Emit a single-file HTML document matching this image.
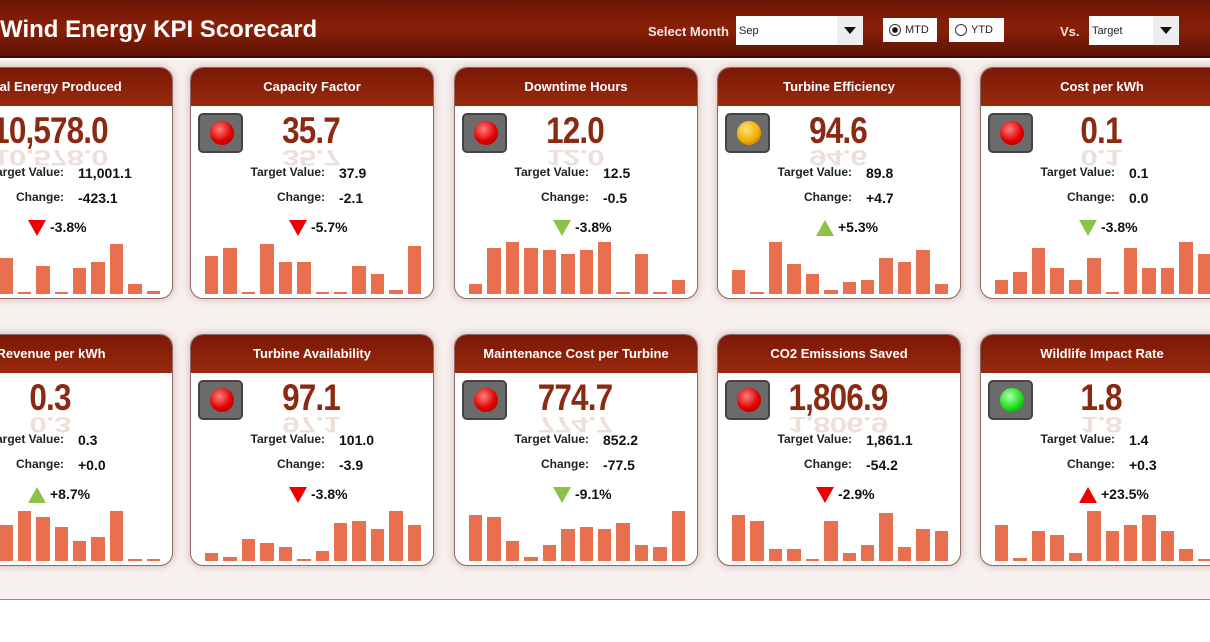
<!DOCTYPE html>
<html><head><meta charset="utf-8"><style>
*{margin:0;padding:0;box-sizing:border-box}
body{width:1210px;height:642px;overflow:hidden;background:#fff;font-family:"Liberation Sans",sans-serif;position:relative}
.top{position:absolute;left:0;top:0;width:1210px;height:58px;background:linear-gradient(#6a1406,#8a2008 50%,#5e1205);border-bottom:2px solid #3d0a02}
.title{position:absolute;left:0;top:16px;color:#fff;font-size:24px;font-weight:bold}
.lbl{position:absolute;color:#f4e6e0;font-size:13px;font-weight:bold;top:24px}
.dd{position:absolute;top:16px;height:29px;background:#fff;font-size:11px;padding:9px 3px;color:#222}
.dd b{position:absolute;right:0;top:0;width:26px;height:29px;background:#eee}
.dd b:after{content:"";position:absolute;left:7px;top:11px;border-left:6px solid transparent;border-right:6px solid transparent;border-top:7px solid #111}
.rb{position:absolute;top:18px;height:24px;background:#fff;font-size:11px;padding:6px 0 0 22px;color:#222}
.rb i{position:absolute;left:6px;top:6px;width:12px;height:12px;border:1px solid #333;border-radius:50%}
.bg{position:absolute;left:0;top:60px;width:1210px;height:540px;background:#f6f0ef;border-bottom:1px solid #9a8a88}
.card{position:absolute;width:244px;height:232px;background:#fff;border:1px solid #8a6a66;border-radius:13px;box-shadow:0 0 8px rgba(150,60,40,.35);overflow:hidden}
.hd{height:38px;background:linear-gradient(#7a1806,#9a2a0e);color:#fff;font-weight:bold;font-size:13px;text-align:center;line-height:38px}
.lt{position:absolute;left:7px;top:45px;width:45px;height:40px;background:#6b6b6b;border:2px solid #444;border-radius:5px}
.lt i{position:absolute;left:10px;top:6px;width:24px;height:24px;border-radius:50%;background:radial-gradient(circle at 40% 35%,#ff8080,#e00000 55%,#900)}
.lt.g i{background:radial-gradient(circle at 40% 35%,#b0ffb0,#22dd22 55%,#080)}
.lt.y i{background:radial-gradient(circle at 40% 35%,#ffe080,#f0b000 55%,#a06000)}
.v{position:absolute;left:40px;width:160px;top:42px;text-align:center;font-family:"Liberation Sans Narrow","Liberation Sans",sans-serif;font-weight:bold;font-size:37px;color:#8b2a12;transform:scaleX(.85);letter-spacing:-1px}
.v:after{content:attr(data-t);position:absolute;left:0;right:0;top:26px;transform:scaleY(-0.6);opacity:.15}
.tl,.cl{position:absolute;right:108px;font-size:12px;font-weight:bold;color:#222}
.tv,.cv{position:absolute;left:148px;font-size:14px;font-weight:bold;color:#111}
.tl,.tv{top:97px}.cl,.cv{top:122px}
.ar{position:absolute;top:152px;left:98px;width:0;height:0;border-left:9px solid transparent;border-right:9px solid transparent}
.ar.dr{border-top:16px solid #e00}.ar.dg{border-top:16px solid #8bc34a}.ar.ur{border-bottom:16px solid #e00}.ar.ug{border-bottom:16px solid #8bc34a}
.pc{position:absolute;top:151px;left:120px;font-size:14px;font-weight:bold;color:#111}
.bars{position:absolute;left:14px;bottom:4px;width:216px;height:60px;display:flex;align-items:flex-end;gap:5px}
.bars i{flex:1;background:#e8704f;min-height:2px}
</style></head><body>
<div class="top">
<div class="title">Wind Energy KPI Scorecard</div>
<div class="lbl" style="left:648px">Select Month</div>
<div class="dd" style="left:736px;width:127px">Sep<b></b></div>
<div class="rb" style="left:883px;width:54px"><i style="background:radial-gradient(#111 35%,#fff 45%)"></i>MTD</div>
<div class="rb" style="left:949px;width:55px"><i></i>YTD</div>
<div class="lbl" style="left:1060px">Vs.</div>
<div class="dd" style="left:1089px;width:90px">Target<b></b></div>
</div>
<div class="bg"></div>

<div class="card" style="left:-71px;top:67px"><div class="hd">Total Energy Produced</div><div class="lt"><i></i></div><div class="v" data-t="10,578.0">10,578.0</div><div class="tl">Target Value:</div><div class="tv">11,001.1</div><div class="cl">Change:</div><div class="cv">-423.1</div><div class="ar dr"></div><div class="pc">-3.8%</div><div class="bars"><i style="height:34px"></i><i style="height:30px"></i><i style="height:32px"></i><i style="height:36px"></i><i style="height:2px"></i><i style="height:28px"></i><i style="height:2px"></i><i style="height:26px"></i><i style="height:32px"></i><i style="height:50px"></i><i style="height:10px"></i><i style="height:3px"></i></div></div>

<div class="card" style="left:190px;top:67px"><div class="hd">Capacity Factor</div><div class="lt"><i></i></div><div class="v" data-t="35.7">35.7</div><div class="tl">Target Value:</div><div class="tv">37.9</div><div class="cl">Change:</div><div class="cv">-2.1</div><div class="ar dr"></div><div class="pc">-5.7%</div><div class="bars"><i style="height:38px"></i><i style="height:46px"></i><i style="height:2px"></i><i style="height:50px"></i><i style="height:32px"></i><i style="height:32px"></i><i style="height:2px"></i><i style="height:2px"></i><i style="height:28px"></i><i style="height:20px"></i><i style="height:4px"></i><i style="height:48px"></i></div></div>

<div class="card" style="left:454px;top:67px"><div class="hd">Downtime Hours</div><div class="lt"><i></i></div><div class="v" data-t="12.0">12.0</div><div class="tl">Target Value:</div><div class="tv">12.5</div><div class="cl">Change:</div><div class="cv">-0.5</div><div class="ar dg"></div><div class="pc">-3.8%</div><div class="bars"><i style="height:10px"></i><i style="height:46px"></i><i style="height:52px"></i><i style="height:46px"></i><i style="height:44px"></i><i style="height:40px"></i><i style="height:44px"></i><i style="height:52px"></i><i style="height:2px"></i><i style="height:40px"></i><i style="height:2px"></i><i style="height:14px"></i></div></div>

<div class="card" style="left:717px;top:67px"><div class="hd">Turbine Efficiency</div><div class="lt y"><i></i></div><div class="v" data-t="94.6">94.6</div><div class="tl">Target Value:</div><div class="tv">89.8</div><div class="cl">Change:</div><div class="cv">+4.7</div><div class="ar ug"></div><div class="pc">+5.3%</div><div class="bars"><i style="height:24px"></i><i style="height:2px"></i><i style="height:52px"></i><i style="height:30px"></i><i style="height:20px"></i><i style="height:4px"></i><i style="height:12px"></i><i style="height:14px"></i><i style="height:36px"></i><i style="height:32px"></i><i style="height:44px"></i><i style="height:10px"></i></div></div>

<div class="card" style="left:980px;top:67px"><div class="hd">Cost per kWh</div><div class="lt"><i></i></div><div class="v" data-t="0.1">0.1</div><div class="tl">Target Value:</div><div class="tv">0.1</div><div class="cl">Change:</div><div class="cv">0.0</div><div class="ar dg"></div><div class="pc">-3.8%</div><div class="bars"><i style="height:14px"></i><i style="height:22px"></i><i style="height:46px"></i><i style="height:26px"></i><i style="height:14px"></i><i style="height:36px"></i><i style="height:2px"></i><i style="height:46px"></i><i style="height:26px"></i><i style="height:26px"></i><i style="height:52px"></i><i style="height:40px"></i></div></div>

<div class="card" style="left:-71px;top:334px"><div class="hd">Revenue per kWh</div><div class="lt"><i></i></div><div class="v" data-t="0.3">0.3</div><div class="tl">Target Value:</div><div class="tv">0.3</div><div class="cl">Change:</div><div class="cv">+0.0</div><div class="ar ug"></div><div class="pc">+8.7%</div><div class="bars"><i style="height:30px"></i><i style="height:40px"></i><i style="height:30px"></i><i style="height:36px"></i><i style="height:50px"></i><i style="height:44px"></i><i style="height:34px"></i><i style="height:20px"></i><i style="height:24px"></i><i style="height:50px"></i><i style="height:2px"></i><i style="height:2px"></i></div></div>

<div class="card" style="left:190px;top:334px"><div class="hd">Turbine Availability</div><div class="lt"><i></i></div><div class="v" data-t="97.1">97.1</div><div class="tl">Target Value:</div><div class="tv">101.0</div><div class="cl">Change:</div><div class="cv">-3.9</div><div class="ar dr"></div><div class="pc">-3.8%</div><div class="bars"><i style="height:8px"></i><i style="height:4px"></i><i style="height:22px"></i><i style="height:18px"></i><i style="height:14px"></i><i style="height:2px"></i><i style="height:10px"></i><i style="height:38px"></i><i style="height:40px"></i><i style="height:32px"></i><i style="height:50px"></i><i style="height:36px"></i></div></div>

<div class="card" style="left:454px;top:334px"><div class="hd">Maintenance Cost per Turbine</div><div class="lt"><i></i></div><div class="v" data-t="774.7">774.7</div><div class="tl">Target Value:</div><div class="tv">852.2</div><div class="cl">Change:</div><div class="cv">-77.5</div><div class="ar dg"></div><div class="pc">-9.1%</div><div class="bars"><i style="height:46px"></i><i style="height:44px"></i><i style="height:20px"></i><i style="height:4px"></i><i style="height:16px"></i><i style="height:32px"></i><i style="height:34px"></i><i style="height:32px"></i><i style="height:38px"></i><i style="height:16px"></i><i style="height:14px"></i><i style="height:50px"></i></div></div>

<div class="card" style="left:717px;top:334px"><div class="hd">CO2 Emissions Saved</div><div class="lt"><i></i></div><div class="v" data-t="1,806.9">1,806.9</div><div class="tl">Target Value:</div><div class="tv">1,861.1</div><div class="cl">Change:</div><div class="cv">-54.2</div><div class="ar dr"></div><div class="pc">-2.9%</div><div class="bars"><i style="height:46px"></i><i style="height:40px"></i><i style="height:12px"></i><i style="height:12px"></i><i style="height:2px"></i><i style="height:40px"></i><i style="height:8px"></i><i style="height:16px"></i><i style="height:48px"></i><i style="height:14px"></i><i style="height:32px"></i><i style="height:30px"></i></div></div>

<div class="card" style="left:980px;top:334px"><div class="hd">Wildlife Impact Rate</div><div class="lt g"><i></i></div><div class="v" data-t="1.8">1.8</div><div class="tl">Target Value:</div><div class="tv">1.4</div><div class="cl">Change:</div><div class="cv">+0.3</div><div class="ar ur"></div><div class="pc">+23.5%</div><div class="bars"><i style="height:36px"></i><i style="height:3px"></i><i style="height:30px"></i><i style="height:26px"></i><i style="height:8px"></i><i style="height:50px"></i><i style="height:30px"></i><i style="height:36px"></i><i style="height:46px"></i><i style="height:30px"></i><i style="height:12px"></i><i style="height:2px"></i></div></div>
</body></html>
